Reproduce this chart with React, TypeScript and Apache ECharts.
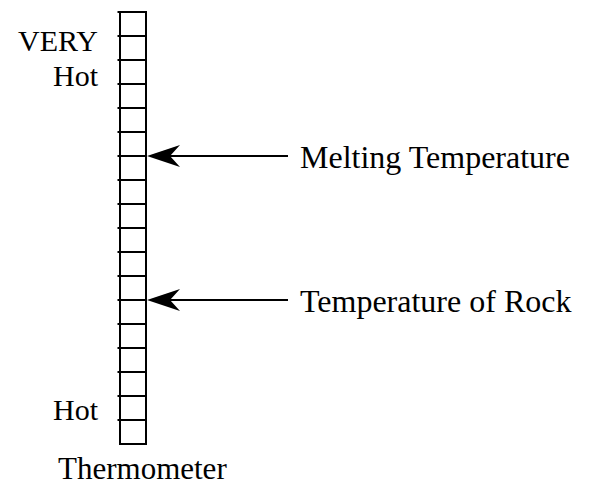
import React, { useEffect, useRef } from "react";
import * as echarts from "echarts";

// Thermometer cells (level index from the bottom)
const cellLevels = [0, 1, 2, 3, 4, 5, 6, 7, 8, 9, 10, 11, 12, 13, 14, 15, 16, 17];
const levelMax = 18;

// Arrow markers
const markerNames = ["Melting Temperature", "Temperature of Rock"];
const markerLevels = [12, 6];

// Scale labels on the left
const scaleNames = ["VERY", "Hot", "Hot"];
const scaleLevels = [16.8, 15.35, 1.45];

const axisTitle = "Thermometer";

const FONT = "'Liberation Serif', 'Times New Roman', serif";

export default function App() {
  const ref = useRef<HTMLDivElement>(null);
  useEffect(() => {
    document.body.style.margin = "0";
    if (!ref.current) return;
    const chart = echarts.init(ref.current, undefined, { renderer: "svg" });
    chart.setOption({
      animation: false,
      backgroundColor: "#ffffff",
      title: {
        text: axisTitle,
        left: 58,
        top: 452,
        padding: 0,
        textStyle: { fontFamily: FONT, fontSize: 31, lineHeight: 32, fontWeight: "normal", color: "#000" },
      },
      grid: { left: 120, top: 12, width: 26, height: 432 },
      xAxis: { type: "value", min: 0, max: 1, show: false },
      yAxis: { type: "value", min: 0, max: levelMax, interval: 1, show: false },
      series: [
        {
          type: "custom",
          clip: false,
          silent: true,
          data: cellLevels.map((l) => [0, l]),
          renderItem: (params: any, api: any) => {
            const level = api.value(1);
            const a = api.coord([0, level + 1]);
            const b = api.coord([1, level]);
            return {
              type: "group",
              children: [
                {
                  type: "rect",
                  shape: { x: a[0], y: a[1], width: b[0] - a[0], height: b[1] - a[1] },
                  style: { fill: "#fff", stroke: "#000", lineWidth: 2 },
                },
                {
                  type: "line",
                  shape: { x1: a[0] - 2.5, y1: a[1], x2: a[0], y2: a[1] },
                  style: { stroke: "#000", lineWidth: 2 },
                },
              ],
            };
          },
        },
        {
          type: "custom",
          clip: false,
          silent: true,
          data: markerLevels.map((l, i) => ({ name: markerNames[i], value: [1, l] })),
          renderItem: (params: any, api: any) => {
            const p = api.coord([1, api.value(1)]);
            const tx = p[0] + 1;
            const y = p[1];
            return {
              type: "group",
              children: [
                {
                  type: "line",
                  shape: { x1: tx + 20, y1: y, x2: tx + 141, y2: y },
                  style: { stroke: "#000", lineWidth: 2 },
                },
                {
                  type: "polygon",
                  shape: {
                    points: [
                      [tx, y],
                      [tx + 33, y - 11],
                      [tx + 23, y],
                      [tx + 33, y + 11],
                    ],
                  },
                  style: { fill: "#000" },
                },
                {
                  type: "text",
                  style: {
                    text: markerNames[params.dataIndex],
                    x: tx + 153,
                    y: y + 1,
                    align: "left",
                    verticalAlign: "middle",
                    fontFamily: FONT,
                    fontSize: 32,
                    fill: "#000",
                  },
                },
              ],
            };
          },
        },
        {
          type: "custom",
          clip: false,
          silent: true,
          data: scaleLevels.map((l, i) => ({ name: scaleNames[i], value: [0, l] })),
          renderItem: (params: any, api: any) => {
            const p = api.coord([0, api.value(1)]);
            return {
              type: "text",
              style: {
                text: scaleNames[params.dataIndex],
                x: p[0] - 22,
                y: p[1],
                align: "right",
                verticalAlign: "middle",
                fontFamily: FONT,
                fontSize: 30,
                fill: "#000",
              },
            };
          },
        },
      ],
    });
    return () => chart.dispose();
  }, []);
  return <div ref={ref} style={{ width: 590, height: 485 }} />;
}
